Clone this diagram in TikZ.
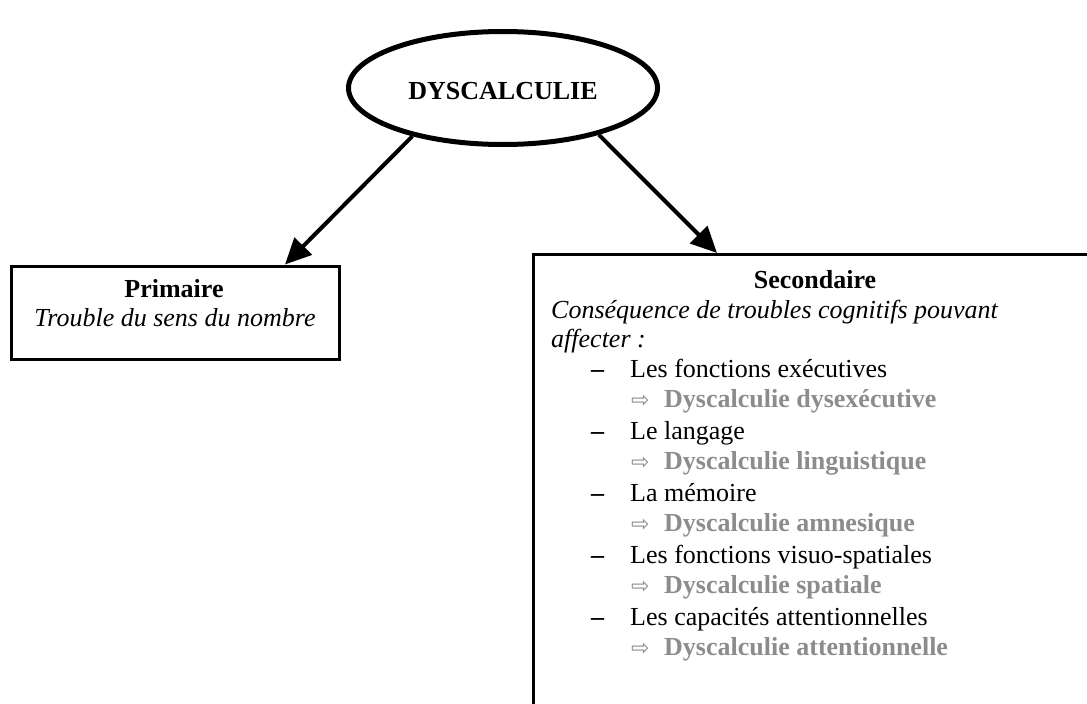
\documentclass[tikz,border=0pt]{standalone}
\usepackage{fontspec}
\setmainfont{Liberation Serif}
\newfontfamily\symfont{DejaVu Sans}
\usetikzlibrary{shapes.geometric,arrows.meta}
\definecolor{typegrey}{RGB}{140,140,140}
\begin{document}
\begin{tikzpicture}[x=1pt,y=-1pt,
  txt/.style={anchor=base west, inner sep=0pt, font=\fontsize{26}{30}\selectfont},
  ctxt/.style={anchor=base, inner sep=0pt, font=\fontsize{26}{30}\selectfont\bfseries},
  consq/.style={anchor=base west, inner sep=0pt, font=\fontsize{26}{30}\selectfont\bfseries, text=typegrey},
  arrsym/.style={anchor=base west, inner sep=0pt, font=\fontsize{22}{20}\symfont, text=typegrey},
  boxstyle/.style={draw, line width=3pt, rectangle, inner sep=0pt},
  conn/.style={line width=4pt, -{Triangle[length=26pt,width=24pt]}}]
\useasboundingbox (0,0) rectangle (1087,704);
\clip (0,0) rectangle (1087,704);
\node[ellipse, draw, line width=5pt, minimum width=309pt, minimum height=113pt, inner sep=0pt] (root) at (503,88) {};
\node[anchor=base, inner sep=0pt, font=\fontsize{26}{30}\selectfont\bfseries] (roottxt) at (503,99) {DYSCALCULIE};
\node[boxstyle, minimum width=328pt, minimum height=93pt] (prim) at (175,312.5) {};
\node[boxstyle, anchor=north west, minimum width=700pt, minimum height=600pt] (sec) at (532,253) {};
\draw[conn] (root.208.6) -- ([xshift=110pt]prim.north);
\draw[conn] (root.334.6) -- ([xshift=185pt]sec.north west);
\node[ctxt] (primtitle) at (174,297) {Primaire};
\node[anchor=base, inner sep=0pt, font=\fontsize{26}{30}\selectfont\itshape] (primtxt) at (175,326) {Trouble du sens du nombre};
\node[ctxt] (sectitle) at (815,288) {Secondaire};
\node[txt, font=\fontsize{26}{30}\selectfont\itshape] (l1) at (551,318) {Conséquence de troubles cognitifs pouvant};
\node[txt, font=\fontsize{26}{30}\selectfont\itshape] (l2) at (551,347) {affecter :};
\foreach \y/\a/\b [count=\i] in {377/Les fonctions exécutives/Dyscalculie dysexécutive,
  439/Le langage/Dyscalculie linguistique,
  501/La mémoire/Dyscalculie amnesique,
  563/Les fonctions visuo-spatiales/Dyscalculie spatiale,
  625/Les capacités attentionnelles/Dyscalculie attentionnelle}{
  \node[txt] (dash\i) at (591,\y) {\textbf{–}};
  \node[txt] (item\i) at (630,\y) {\a};
  \node[arrsym] (sym\i) at (631,\y+30) {⇨};
  \node[consq] (cons\i) at (664,\y+30) {\b};
}
\end{tikzpicture}
\end{document}
